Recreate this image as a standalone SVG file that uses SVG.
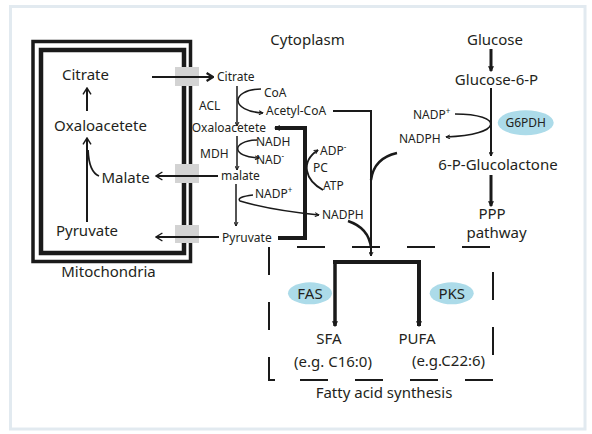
<svg xmlns="http://www.w3.org/2000/svg" width="592" height="434" viewBox="0 0 592 434">
<style>
.t{font-family:"Noto Sans","Open Sans",sans-serif;fill:#231f20}
.L{font-size:15px}
.S{font-size:12px}
.ln{fill:none;stroke:#1a1a1a}
.box{fill:#d3d3d3}
.enz{fill:#acdbe9}
</style>
<defs>
<marker id="oc" viewBox="0 0 10 12" refX="9" refY="6" markerWidth="8" markerHeight="10" markerUnits="userSpaceOnUse" orient="auto"><path d="M1,1 L9,6 L1,11" fill="none" stroke="#1a1a1a" stroke-width="1.8"/></marker>
<marker id="cit" viewBox="0 0 10 12" refX="9" refY="6" markerWidth="8" markerHeight="10" markerUnits="userSpaceOnUse" orient="auto"><path d="M1,1 L9,6 L1,11" fill="none" stroke="#1a1a1a" stroke-width="2.8"/></marker>
<marker id="sm" viewBox="0 0 10 10" refX="9" refY="5" markerWidth="5" markerHeight="5" markerUnits="userSpaceOnUse" orient="auto"><path d="M1,1 L9,5 L1,9" fill="none" stroke="#1a1a1a" stroke-width="2"/></marker>
<marker id="fl" viewBox="0 0 10 10" refX="8" refY="5" markerWidth="6" markerHeight="6" markerUnits="userSpaceOnUse" orient="auto"><path d="M0,0 L10,5 L0,10 z" fill="#1a1a1a"/></marker>
</defs>
<rect x="0" y="0" width="592" height="434" fill="#ffffff"/>
<rect x="10.5" y="6.5" width="574.5" height="422.5" fill="#ffffff" stroke="#e2eaf0" stroke-width="3"/>

<g id="mitochondria">
<rect x="33" y="41.5" width="157.5" height="220" fill="none" stroke="#1a1a1a" stroke-width="3.5"/>
<rect x="41" y="50" width="143" height="203" fill="none" stroke="#1a1a1a" stroke-width="4.5"/>
<text class="t L" x="108.5" y="277" text-anchor="middle">Mitochondria</text>
</g>
<g id="transporters">
<rect class="box" x="175" y="67" width="24" height="19"/>
<rect class="box" x="175" y="164" width="24" height="19"/>
<rect class="box" x="175" y="225" width="24" height="18"/>
</g>

<g id="mito-nodes">
<text id="m-citrate" class="t L" x="85.5" y="80" text-anchor="middle">Citrate</text>
<text id="m-oaa" class="t L" x="100.5" y="131" text-anchor="middle">Oxaloacetete</text>
<text id="m-malate" class="t L" x="125.5" y="183" text-anchor="middle">Malate</text>
<text id="m-pyruvate" class="t L" x="87" y="236" text-anchor="middle">Pyruvate</text>
</g>

<g id="labels">
<text id="cytoplasm" class="t L" x="307.5" y="45" text-anchor="middle">Cytoplasm</text>
<text class="t S" x="217" y="81">Citrate</text>
<text class="t S" x="264" y="97">CoA</text>
<text class="t S" x="199" y="110">ACL</text>
<text class="t S" x="266" y="115">Acetyl-CoA</text>
<text class="t S" x="266" y="132" text-anchor="end" font-size="11.5">Oxaloacetete</text>
<text class="t S" x="200" y="158">MDH</text>
<text class="t S" x="256" y="146">NADH</text>
<text class="t S" x="256" y="163.5">NAD<tspan dy="-4.5" font-size="8">-</tspan></text>
<text class="t S" x="221" y="180">malate</text>
<text class="t S" x="255" y="198">NADP<tspan dy="-5" font-size="8">+</tspan></text>
<text class="t S" x="322" y="219">NADPH</text>
<text class="t S" x="222" y="242" font-size="11.5">Pyruvate</text>
<text class="t S" x="320" y="155">ADP<tspan dy="-5" font-size="8">-</tspan></text>
<text class="t S" x="313" y="172">PC</text>
<text class="t S" x="323" y="190">ATP</text>
</g>

<g id="ppp">
<text class="t L" x="495" y="45" text-anchor="middle">Glucose</text>
<text class="t L" x="496.5" y="85" text-anchor="middle">Glucose-6-P</text>
<text class="t S" x="413" y="119">NADP<tspan dy="-5" font-size="8">+</tspan></text>
<text class="t S" x="399" y="143">NADPH</text>
<g id="g6pdh">
<ellipse class="enz" cx="525.7" cy="122.7" rx="28" ry="12.5"/>
<text class="t S" x="525.7" y="127" text-anchor="middle">G6PDH</text>
</g>
<text class="t L" x="498" y="170" text-anchor="middle">6-P-Glucolactone</text>
<text class="t L" x="492" y="219" text-anchor="middle">PPP</text>
<text class="t L" x="496.5" y="238" text-anchor="middle">pathway</text>
</g>

<g id="fatty-acid-synthesis">
<path class="ln" stroke-width="2" d="M297 247H325M352 247H380M407 247H435M462 247H490M269 247V275M269 302V330M269 357V380H275M300 380H328M355 380H383M410 380H438M465 380H493M493 272V300M493 327V355"/>
<g id="fas"><ellipse class="enz" cx="310" cy="293.3" rx="22" ry="11"/><text class="t L" x="310" y="299" text-anchor="middle">FAS</text></g>
<g id="pks"><ellipse class="enz" cx="451.7" cy="293.3" rx="22" ry="11"/><text class="t L" x="451.7" y="299" text-anchor="middle">PKS</text></g>
<text class="t L" x="329" y="344" text-anchor="middle">SFA</text>
<text class="t L" x="333" y="367" text-anchor="middle">(e.g. C16:0)</text>
<text class="t L" x="417" y="344" text-anchor="middle">PUFA</text>
<text class="t L" x="448.5" y="366" text-anchor="middle">(e.g.C22:6)</text>
<text class="t L" x="384" y="398" text-anchor="middle">Fatty acid synthesis</text>
</g>

<g id="connectors">
<path class="ln" stroke-width="2" d="M87 111V88" marker-end="url(#oc)"/>
<path class="ln" stroke-width="2" d="M87 222V138" marker-end="url(#oc)"/>
<path class="ln" stroke-width="1.8" d="M88 150Q89 172 99 176"/>
<path class="ln" stroke-width="2.2" d="M152 77H213" marker-end="url(#cit)"/>
<path class="ln" stroke-width="2" d="M218 176H156" marker-end="url(#oc)"/>
<path class="ln" stroke-width="2" d="M219 237H156" marker-end="url(#oc)"/>
<path class="ln" stroke-width="1.5" d="M237 86V126" marker-end="url(#sm)"/>
<path class="ln" stroke-width="1.5" d="M261 89C230 90 230 111 263 113" marker-end="url(#sm)"/>
<path class="ln" stroke-width="1.5" d="M237 136V170" marker-end="url(#sm)"/>
<path class="ln" stroke-width="1.5" d="M257 140C231 141 231 157 259 158" marker-end="url(#sm)"/>
<path class="ln" stroke-width="1.5" d="M236 184V226" marker-end="url(#sm)"/>
<path class="ln" stroke-width="1.5" d="M253 195Q236 197 240 201Q270 210 319 215" marker-end="url(#sm)"/>
<path class="ln" stroke-width="1.8" d="M323 190C305 180 300 162 318 150" marker-end="url(#sm)"/>
<path class="ln" stroke-width="4" d="M278 238H305V128H275" marker-end="url(#fl)"/>
<path class="ln" stroke-width="2" d="M333 111H371V256" marker-end="url(#sm)"/>
<path class="ln" stroke-width="2.5" d="M348 221Q369 228 371 248"/>
<path class="ln" stroke-width="2.5" d="M397 153Q374 158 371 180"/>
<path class="ln" stroke-width="4" d="M333 262H421"/>
<path class="ln" stroke-width="3.5" d="M335 262V326" marker-end="url(#fl)"/>
<path class="ln" stroke-width="4" d="M419 262V326" marker-end="url(#fl)"/>
<path class="ln" stroke-width="3" d="M491 49V71" marker-end="url(#fl)"/>
<path class="ln" stroke-width="2" d="M491 88V156" marker-end="url(#sm)"/>
<path class="ln" stroke-width="1.5" d="M455 114C504 114 504 135 446 137" marker-end="url(#sm)"/>
<path class="ln" stroke-width="3" d="M491 175V206" marker-end="url(#fl)"/>
</g>
</svg>
